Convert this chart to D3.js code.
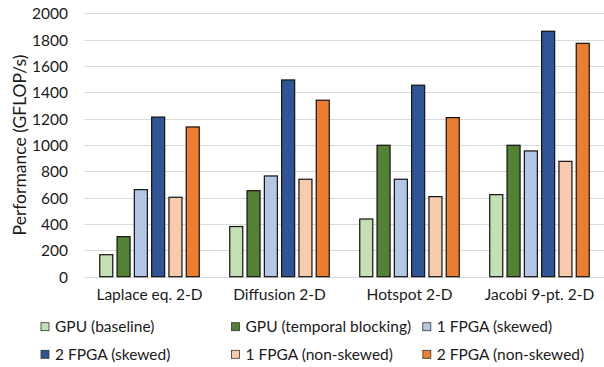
<!DOCTYPE html>
<html>
<head>
<meta charset="utf-8">
<script src="https://cdn.jsdelivr.net/npm/d3@7"></script>
<style>
  html, body { margin: 0; padding: 0; background: #fff; }
  svg { display: block; }
  text { font-family: Lato, "Open Sans", sans-serif; fill: #1a1a1a; }
</style>
</head>
<body>
<svg id="chart" width="604" height="367"></svg>
<script>
// Benchmarks along the x axis
const categories = ["Laplace eq. 2-D", "Diffusion 2-D", "Hotspot 2-D", "Jacobi 9-pt. 2-D"];

// Configurations, in legend order
const seriesNames = [
  "GPU (baseline)",
  "GPU (temporal blocking)",
  "1 FPGA (skewed)",
  "2 FPGA (skewed)",
  "1 FPGA (non-skewed)",
  "2 FPGA (non-skewed)"
];
const seriesColors = ["#c5e0b4", "#548235", "#b4c7e7", "#2f5597", "#f8cbad", "#ed7d31"];

// Performance in GFLOP/s, one array per configuration (same order as categories)
const gpuBaseline       = [167, 381, 438, 623];
const gpuTemporal       = [304, 653, 998, 998];
const fpga1Skewed       = [661, 765, 740, 955];
const fpga2Skewed       = [1212, 1494, 1454, 1864];
const fpga1NonSkewed    = [603, 740, 608, 876];
const fpga2NonSkewed    = [1137, 1340, 1208, 1772];
const seriesValues = [gpuBaseline, gpuTemporal, fpga1Skewed, fpga2Skewed, fpga1NonSkewed, fpga2NonSkewed];

const yTicks = [0, 200, 400, 600, 800, 1000, 1200, 1400, 1600, 1800, 2000];
const yTitle = "Performance (GFLOP/s)";

const svg = d3.select("#chart");

const plot = { left: 84.5, right: 604.5, top: 13.3, bottom: 276.7 };

const x0 = d3.scaleBand().domain(categories).range([plot.left, plot.right]).padding(0);
const x1 = d3.scaleBand().domain(d3.range(seriesNames.length))
  .range([0, x0.bandwidth()]).paddingInner(0.19).paddingOuter(0.853);
const y = d3.scaleLinear().domain([0, 2000]).range([plot.bottom, plot.top]);

// Horizontal gridlines
svg.append("g")
  .selectAll("line")
  .data(yTicks)
  .join("line")
  .attr("x1", plot.left)
  .attr("x2", plot.right)
  .attr("y1", d => Math.round(y(d)) + 0.5)
  .attr("y2", d => Math.round(y(d)) + 0.5)
  .attr("stroke", "#d9d9d9")
  .attr("stroke-width", 1);

// Y axis tick labels
const yAxis = d3.axisLeft(y).tickValues(yTicks).tickFormat(d3.format("d")).tickSize(0).tickPadding(0);
const yg = svg.append("g").attr("transform", `translate(68,0)`).call(yAxis);
yg.select(".domain").remove();
yg.selectAll("text")
  .attr("font-family", "Lato, sans-serif")
  .attr("font-size", 15.5)
  .attr("fill", "#1a1a1a")
  .attr("dy", "0.36em");

// Y axis title
svg.append("text")
  .attr("transform", `translate(20,${(plot.top + plot.bottom) / 2}) rotate(-90)`)
  .attr("text-anchor", "middle")
  .attr("dy", "0.36em")
  .attr("font-size", 17.5)
  .text(yTitle);

// Bars
const groups = svg.append("g")
  .selectAll("g")
  .data(categories)
  .join("g")
  .attr("transform", d => `translate(${x0(d)},0)`);

groups.selectAll("rect")
  .data((c, ci) => seriesValues.map((vals, si) => ({ si, v: vals[ci] })))
  .join("rect")
  .attr("x", d => x1(d.si) + 0.5)
  .attr("y", d => y(d.v))
  .attr("width", x1.bandwidth() - 1)
  .attr("height", d => y(0) - y(d.v))
  .attr("fill", d => seriesColors[d.si])
  .attr("stroke", "#111")
  .attr("stroke-width", 1.2);

// Category labels
const xAxis = d3.axisBottom(x0).tickSize(0).tickPadding(0);
const xg = svg.append("g").attr("transform", `translate(0,${plot.bottom})`).call(xAxis);
xg.select(".domain").remove();
xg.selectAll("text")
  .attr("font-family", "Lato, sans-serif")
  .attr("font-size", 15.5)
  .attr("fill", "#1a1a1a")
  .attr("y", 18)
  .attr("dy", "0.35em");

// Legend: three columns, two rows
const legendCols = [40.5, 231, 422.3];
const legendRows = [326.7, 354.3];
const legend = svg.append("g")
  .selectAll("g")
  .data(seriesNames)
  .join("g")
  .attr("transform", (d, i) => `translate(${legendCols[i % 3]},${legendRows[Math.floor(i / 3)]})`);

legend.append("rect")
  .attr("x", 0.5)
  .attr("y", -4)
  .attr("width", 8)
  .attr("height", 8)
  .attr("fill", (d, i) => seriesColors[i])
  .attr("stroke", "#333")
  .attr("stroke-width", 0.8);

legend.append("text")
  .attr("x", 14.5)
  .attr("dy", "0.35em")
  .attr("font-size", 15.5)
  .text(d => d);
</script>
</body>
</html>
